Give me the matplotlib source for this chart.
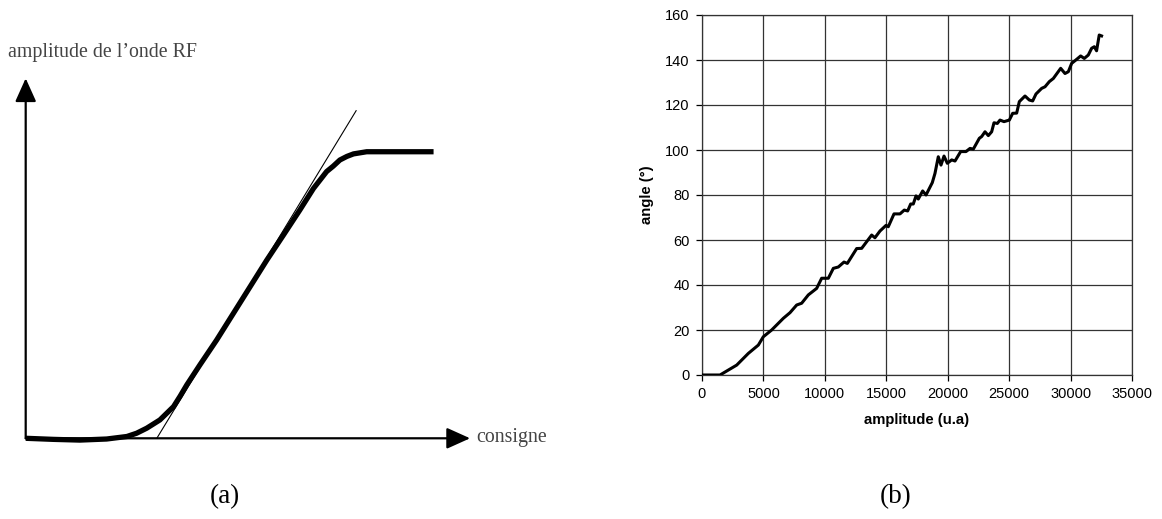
import matplotlib.pyplot as plt

# (a) courbe schématique : amplitude de l'onde RF en fonction de la consigne
consigne = [0, 0.63, 1.23, 1.84, 2.30, 2.52, 2.75, 3.05, 3.36, 3.51, 3.66, 3.96, 4.34,
            4.72, 5.10, 5.48, 5.86, 6.23, 6.54, 6.84, 6.99, 7.14, 7.30, 7.45, 7.75, 9.27]
amp_rf = [0, -0.03, -0.05, -0.02, 0.05, 0.14, 0.28, 0.51, 0.88, 1.17, 1.48, 2.04, 2.73,
          3.47, 4.21, 4.95, 5.65, 6.34, 6.94, 7.41, 7.56, 7.73, 7.83, 7.90, 7.96, 7.96]
tangente_x = [2.98, 7.51]
tangente_y = [0, 9.10]

# (b) angle mesuré en fonction de l'amplitude
amplitude = [0, 1465, 2823, 3771, 4585, 4992, 5670, 6620, 7163, 7705, 8112, 8655,
             9333, 9740, 10283, 10690, 11096, 11558, 11830, 12590, 12997, 13810,
             14075, 14488, 14977, 15163, 15628, 16116, 16465, 16740, 16984, 17198,
             17419, 17605, 17961, 18233, 18745, 18963, 19233, 19453, 19698, 19968,
             20324, 20593, 21054, 21488, 21814, 22085, 22573, 22767, 23035, 23306,
             23577, 23767, 24038, 24256, 24581, 25015, 25287, 25612, 25829, 26291,
             26644, 26915, 27186, 27648, 27919, 28272, 28598, 29195, 29547, 29818,
             30089, 30496, 30821, 31116, 31442, 31713, 31930, 32116, 32333, 32523]
angle = [0, 0, 4.4, 9.6, 13.3, 17, 20, 25.2, 27.7, 31.1, 31.9, 35.6,
         38.5, 43, 43, 47.4, 48, 50.2, 49.6, 56.2, 56.3, 62.2,
         61, 64, 66.5, 65.9, 71.6, 71.6, 73.3, 72.9, 76, 76,
         79.6, 78.2, 81.8, 80, 85.5, 89.6, 97, 93.3, 97.3, 94.1,
         95.6, 95.1, 99.3, 99.3, 100.7, 100.4, 105.2, 106, 108.1, 106.4,
         108.1, 112.1, 111.8, 113.3, 112.6, 113.3, 116.3, 116.4, 121.5, 124,
         122.2, 121.8, 124.9, 127.4, 128.1, 130.4, 131.8, 136.3, 134, 134.8,
         138.5, 140.3, 141.8, 140.7, 142.2, 145.2, 145.9, 144.1, 151.1, 150.7]

fig = plt.figure(figsize=(11.62, 5.19), dpi=100)

# ---- panneau (a) ----
ax1 = fig.add_axes([0, 0, 580 / 1162, 1])
ax1.set_xlim(-0.584, 12.598)
ax1.set_ylim(-2.242, 12.175)
ax1.axis('off')

fleche = dict(arrowstyle='-|>,head_length=0.8,head_width=0.36', mutation_scale=18,
              lw=1.6, color='black', shrinkA=0, shrinkB=0)
ax1.annotate('', xy=(0, 10.0), xytext=(0, 0), arrowprops=fleche)
ax1.annotate('', xy=(10.1, 0), xytext=(0, 0), arrowprops=fleche)

ax1.plot(tangente_x, tangente_y, color='black', lw=0.8)
ax1.plot(consigne, amp_rf, color='black', lw=3.8, solid_capstyle='butt',
         solid_joinstyle='round')

serif = ['Liberation Serif', 'DejaVu Serif']
ax1.text(-0.40, 10.73, "amplitude de l\u2019onde RF", family=serif, fontsize=14.3,
         color='#444444', ha='left', va='center')
ax1.text(10.25, 0.02, 'consigne', family=serif, fontsize=14.3, color='#444444',
         ha='left', va='center')
fig.text(225 / 1162, 1 - 497 / 519, '(a)', family=serif, fontsize=19.5,
         ha='center', va='center')
fig.text(896 / 1162, 1 - 497 / 519, '(b)', family=serif, fontsize=19.5,
         ha='center', va='center')

# ---- panneau (b) ----
sans = ['Liberation Sans', 'DejaVu Sans']
ax2 = fig.add_axes([702 / 1162, (519 - 375) / 519, 430 / 1162, 360 / 519])
ax2.plot(amplitude, angle, color='black', lw=2.2, zorder=3,
         solid_joinstyle='round')
ax2.set_xlim(0, 35000)
ax2.set_ylim(0, 160)
ax2.set_xticks(range(0, 35001, 5000))
ax2.set_yticks(range(0, 161, 20))
ax2.grid(True, color='#333333', lw=0.9)
for s in ax2.spines.values():
    s.set_color('#333333')
    s.set_linewidth(0.9)
ax2.tick_params(direction='out', length=4, width=0.9, color='black',
                labelsize=10.5, pad=5)
for lab in ax2.get_xticklabels() + ax2.get_yticklabels():
    lab.set_family(sans)
ax2.set_xlabel('amplitude (u.a)', family=sans, fontsize=10.7, fontweight='bold',
               labelpad=8)
ax2.set_ylabel('angle (°)', family=sans, fontsize=10.7, fontweight='bold',
               labelpad=8)

fig.savefig('out.png', dpi=100)
print("figure enregistrée")
